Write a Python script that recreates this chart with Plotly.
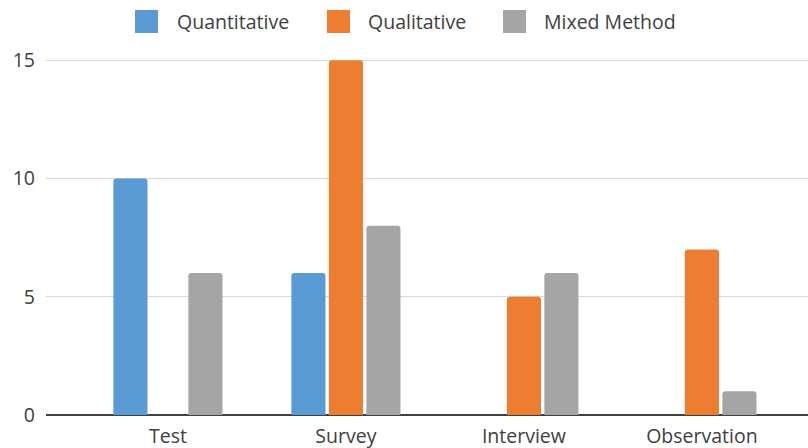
import plotly.graph_objects as go

# Research instruments by study approach
categories = ["Test", "Survey", "Interview", "Observation"]
quantitative = [10, 6, 0, 0]
qualitative = [0, 15, 5, 7]
mixed_method = [6, 8, 6, 1]

series_names = ["Quantitative", "Qualitative", "Mixed Method"]
series_values = [quantitative, qualitative, mixed_method]
series_colors = ["#5B9BD5", "#ED7D31", "#A5A5A5"]

W, H = 808, 448
ML, MR, MT, MB = 46, 0, 46, 33
FONT = "Open Sans"
FS = 19.5
TEXT_COLOR = "#404040"

fig = go.Figure()
for name, vals, col in zip(series_names, series_values, series_colors):
    fig.add_trace(go.Bar(
        x=categories, y=vals, name=name,
        marker=dict(color=col, line=dict(width=0)),
        showlegend=False,
    ))


def px_x(px):
    return (px - ML) / (W - ML - MR)


def px_y(py):
    return (H - MB - py) / (H - MT - MB)


# Legend drawn as large square swatches with labels
legend_items = [(135, 175), (327, 366), (503, 542)]
shapes = []
annotations = []
for (sx, tx), name, col in zip(legend_items, series_names, series_colors):
    shapes.append(dict(
        type="rect", xref="paper", yref="paper",
        x0=px_x(sx), x1=px_x(sx + 23), y0=px_y(33), y1=px_y(10),
        fillcolor=col, line=dict(width=0),
    ))
    annotations.append(dict(
        xref="paper", yref="paper", x=px_x(tx), y=px_y(21.5),
        xanchor="left", yanchor="middle", showarrow=False,
        text=name, font=dict(family=FONT, size=FS, color=TEXT_COLOR),
    ))

fig.update_layout(
    width=W, height=H,
    margin=dict(l=ML, r=MR, t=MT, b=MB, pad=0),
    paper_bgcolor="white", plot_bgcolor="white",
    barmode="group", bargap=0.368, bargroupgap=0.09,
    barcornerradius=3,
    font=dict(family=FONT, size=FS, color=TEXT_COLOR),
    shapes=shapes, annotations=annotations,
    showlegend=False,
)
fig.update_xaxes(
    type="category", range=[-0.685, 3.596],
    showgrid=False, showline=False, zeroline=False, ticks="",
    tickfont=dict(family=FONT, size=FS, color=TEXT_COLOR),
    ticklabelstandoff=7,
)
fig.update_yaxes(
    range=[0, 15.6], tickvals=[0, 5, 10, 15],
    showgrid=True, gridcolor="#D9D9D9", gridwidth=1.2,
    zeroline=True, zerolinecolor="#404040", zerolinewidth=1.5,
    showline=False, ticks="",
    tickfont=dict(family=FONT, size=FS, color=TEXT_COLOR),
    ticklabelstandoff=10,
)

fig.write_html("out.html")
